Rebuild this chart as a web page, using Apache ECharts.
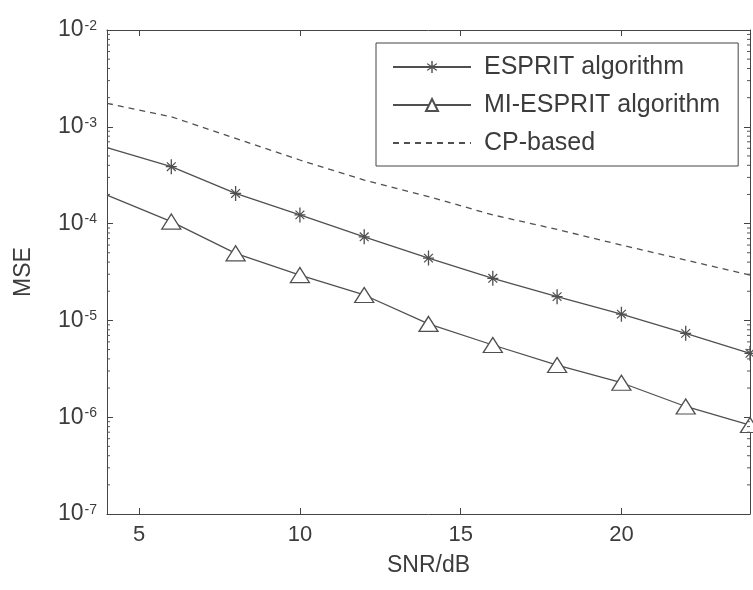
<!DOCTYPE html>
<html>
<head>
<meta charset="utf-8">
<script src="https://cdn.jsdelivr.net/npm/echarts@6/dist/echarts.min.js"></script>
<style>
  html, body { margin: 0; padding: 0; background: #fff; }
  #chart { width: 753px; height: 590px; }
</style>
</head>
<body>
<div id="chart"></div>
<script>
// SNR (dB) sample points
const snr = [4, 6, 8, 10, 12, 14, 16, 18, 20, 22, 24];
// MSE values
const espritMse = [6.1e-4, 3.87e-4, 2.05e-4, 1.23e-4, 7.3e-5, 4.4e-5, 2.72e-5, 1.76e-5, 1.16e-5, 7.35e-6, 4.57e-6];
const miEspritMse = [1.97e-4, 1.05e-4, 4.93e-5, 2.94e-5, 1.83e-5, 9.2e-6, 5.57e-6, 3.46e-6, 2.27e-6, 1.29e-6, 8.3e-7];
const cpMse = [1.75e-3, 1.27e-3, 7.6e-4, 4.54e-4, 2.82e-4, 1.9e-4, 1.23e-4, 8.7e-5, 6.0e-5, 4.2e-5, 2.94e-5];

const seriesNames = ['ESPRIT algorithm', 'MI-ESPRIT algorithm', 'CP-based'];
const xTicks = [5, 10, 15, 20];
const decades = [-7, -6, -5, -4, -3];
const minorMultipliers = [2, 3, 4, 5, 6, 7, 8, 9];

const FONT = '"Liberation Sans", Arial, Helvetica, sans-serif';
const INK = '#3c3c3c';
const LINE = '#505050';

const starPath = 'path://M-0.6,-7 L0.6,-7 L0.6,7 L-0.6,7 Z M-5,-0.6 L5,-0.6 L5,0.6 L-5,0.6 Z ' +
  'M-4.4,-3.6 L-3.6,-4.4 L4.4,3.6 L3.6,4.4 Z M3.6,-4.4 L4.4,-3.6 L-3.6,4.4 L-4.4,3.6 Z';

// first point sits on the axis edge, no marker drawn there
const toPoints = (vals) => vals.map((v, i) => i === 0
  ? { value: [snr[i], v], symbol: 'none' }
  : { value: [snr[i], v] });

const minorVals = [];
decades.forEach(e => minorMultipliers.forEach(m => minorVals.push([4, m * Math.pow(10, e)])));

const chart = echarts.init(document.getElementById('chart'));

const yLabelFmt = (v) => {
  const e = Math.round(Math.log10(v));
  return '{b|10}{s|' + e + '}';
};

const option = {
  backgroundColor: '#fff',
  animation: false,
  grid: { left: 107, right: 3, top: 30, bottom: 76 },
  legend: {
    data: [
      { name: seriesNames[0] },
      { name: seriesNames[1] },
      { name: seriesNames[2], itemStyle: { opacity: 0 } }
    ],
    orient: 'vertical',
    left: 376,
    top: 43,
    padding: [11, 18, 10, 16],
    itemWidth: 78,
    itemHeight: 15,
    itemGap: 12,
    borderColor: '#444',
    borderWidth: 1,
    backgroundColor: '#fff',
    textStyle: { fontFamily: FONT, fontSize: 25, color: INK, lineHeight: 26, padding: [0, 0, 0, 8] }
  },
  xAxis: [{
    type: 'value', min: 4, max: 24,
    name: 'SNR/dB', nameLocation: 'middle', nameGap: 40,
    nameTextStyle: { fontFamily: FONT, fontSize: 23, color: INK },
    axisLine: { lineStyle: { color: '#444', width: 1 } },
    axisTick: { show: true, inside: true, length: 6, customValues: xTicks, lineStyle: { color: '#444', width: 1 } },
    axisLabel: { customValues: xTicks, fontFamily: FONT, fontSize: 22, color: INK, margin: 10 },
    splitLine: { show: false }
  }, {
    type: 'value', min: 4, max: 24, position: 'top',
    axisLine: { lineStyle: { color: '#444', width: 1 } },
    axisTick: { show: true, inside: true, length: 6, customValues: xTicks, lineStyle: { color: '#444', width: 1 } },
    axisLabel: { show: false },
    splitLine: { show: false }
  }],
  yAxis: [{
    type: 'log', logBase: 10, min: 1e-7, max: 1e-2,
    name: 'MSE', nameLocation: 'middle', nameGap: 72, nameRotate: 90,
    nameTextStyle: { fontFamily: FONT, fontSize: 23, color: INK },
    axisLine: { show: true, lineStyle: { color: '#444', width: 1 } },
    axisTick: { show: true, inside: true, length: 6, lineStyle: { color: '#444', width: 1 } },
    axisLabel: {
      formatter: yLabelFmt, margin: 10,
      rich: {
        b: { fontFamily: FONT, fontSize: 23, color: INK, lineHeight: 22 },
        s: { fontFamily: FONT, fontSize: 14, color: INK, verticalAlign: 'top', lineHeight: 14, padding: [0, 0, 14, 1] }
      }
    },
    splitLine: { show: false }
  }, {
    type: 'log', logBase: 10, min: 1e-7, max: 1e-2, position: 'right',
    axisLine: { show: true, lineStyle: { color: '#444', width: 1 } },
    axisTick: { show: true, inside: true, length: 6, lineStyle: { color: '#444', width: 1 } },
    axisLabel: { show: false },
    splitLine: { show: false }
  }],
  series: [{
    name: seriesNames[0], type: 'line',
    data: toPoints(espritMse),
    symbol: starPath, symbolSize: [11, 15],
    lineStyle: { color: LINE, width: 1.3 },
    itemStyle: { color: LINE },
    z: 3
  }, {
    name: seriesNames[1], type: 'line',
    data: toPoints(miEspritMse),
    symbol: 'triangle', symbolSize: [19, 15],
    lineStyle: { color: LINE, width: 1.3 },
    itemStyle: { color: '#fff', borderColor: LINE, borderWidth: 1.3 },
    z: 3
  }, {
    name: seriesNames[2], type: 'line',
    data: snr.map((x, i) => [x, cpMse[i]]),
    symbol: 'none',
    lineStyle: { color: LINE, width: 1.3, type: [6, 5] },
    itemStyle: { color: LINE },
    z: 3
  }, {
    type: 'custom', silent: true, clip: false,
    data: minorVals,
    z: 4,
    renderItem: (params, api) => {
      const l = api.coord([4, api.value(1)]);
      const r = api.coord([24, api.value(1)]);
      return {
        type: 'group',
        children: [
          { type: 'line', shape: { x1: l[0], y1: l[1], x2: l[0] + 3, y2: l[1] }, style: { stroke: '#555', lineWidth: 1 } },
          { type: 'line', shape: { x1: r[0] - 3, y1: r[1], x2: r[0], y2: r[1] }, style: { stroke: '#555', lineWidth: 1 } }
        ]
      };
    }
  }]
};

chart.setOption(option);
</script>
</body>
</html>
